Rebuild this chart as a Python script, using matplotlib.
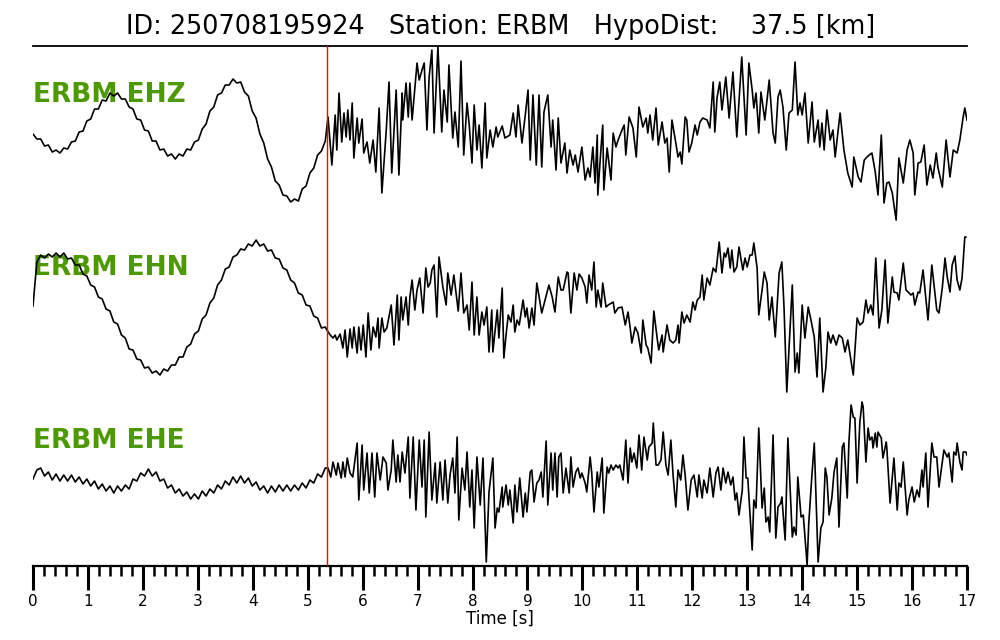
import numpy as np
import matplotlib
matplotlib.use('Agg')
import matplotlib.pyplot as plt
from matplotlib.ticker import MultipleLocator

# ---------------------------------------------------------------
# Header info
# ---------------------------------------------------------------
EVENT_ID = '250708195924'
STATION = 'ERBM'
HYPO_DIST_KM = 37.5
P_PICK = 5.35          # red marker [s]
CHANNELS = ['EHZ', 'EHN', 'EHE']

# ---------------------------------------------------------------
# Traces (amplitudes in plot counts)
# before the pick: one sample every PRE_DT seconds
# after the pick: peaks / troughs as (time, amplitude)
# ---------------------------------------------------------------
PRE_DT = 0.07

EHZ_PRE = [-1, -6, -6, -13, -12, -19, -17, -20, -15, -16, -9, -8, 1, 2, 12, 14,
           24, 24, 33, 32, 40, 37, 40, 34, 34, 26, 24, 14, 13, 3, 2, -8, -8, -17,
           -16, -23, -21, -26, -21, -23, -16, -17, -9, -7, 4, 9, 22, 26, 38, 40,
           48, 48, 54, 50, 51, 41, 37, 22, 15, -1, -10, -26, -34, -48, -52, -62,
           -63, -69, -66, -68, -56, -53, -40, -35, -22, -18, -8]
EHZ_T = [5.37, 5.44, 5.50, 5.53, 5.57, 5.62, 5.66, 5.70, 5.73, 5.77, 5.81, 5.84,
         5.90, 5.93, 5.99, 6.02, 6.08, 6.13, 6.19, 6.24, 6.30, 6.35, 6.43, 6.48,
         6.53, 6.61, 6.66, 6.72, 6.73, 6.79, 6.83, 6.86, 6.90, 6.99, 7.03, 7.08,
         7.12, 7.17, 7.21, 7.26, 7.30, 7.37, 7.44, 7.48, 7.54, 7.57, 7.64, 7.68,
         7.74, 7.79, 7.84, 7.90, 7.94, 7.99, 8.03, 8.08, 8.12, 8.17, 8.23, 8.26,
         8.32, 8.37, 8.43, 8.46, 8.54, 8.59, 8.68, 8.74, 8.79, 8.83, 8.90, 8.96,
         9.01, 9.05, 9.10, 9.16, 9.21, 9.26, 9.30, 9.37, 9.43, 9.46, 9.52, 9.56,
         9.61, 9.68, 9.72, 9.77, 9.83, 9.87, 9.92, 9.99, 10.05, 10.10, 10.14,
         10.19, 10.23, 10.27, 10.28, 10.34, 10.37, 10.39, 10.45, 10.52, 10.56,
         10.61, 10.65, 10.72, 10.76, 10.79, 10.85, 10.92, 10.98, 11.03, 11.10,
         11.16, 11.19, 11.23, 11.28, 11.34, 11.38, 11.45, 11.50, 11.54, 11.58,
         11.63, 11.70, 11.74, 11.78, 11.81, 11.87, 11.90, 11.94, 11.99, 12.05,
         12.09, 12.14, 12.19, 12.27, 12.32, 12.38, 12.41, 12.45, 12.50, 12.54,
         12.61, 12.67, 12.74, 12.81, 12.90, 12.98, 13.03, 13.09, 13.12, 13.16,
         13.21, 13.25, 13.32, 13.40, 13.47, 13.51, 13.56, 13.60, 13.65, 13.71,
         13.76, 13.82, 13.87, 13.92, 13.96, 14.00, 14.05, 14.11, 14.18, 14.22,
         14.29, 14.32, 14.36, 14.40, 14.45, 14.51, 14.56, 14.60, 14.69, 14.76,
         14.83, 14.91, 14.94, 15.02, 15.07, 15.13, 15.18, 15.22, 15.27, 15.33,
         15.38, 15.44, 15.49, 15.54, 15.58, 15.64, 15.71, 15.76, 15.84, 15.91,
         15.96, 16.02, 16.05, 16.11, 16.16, 16.22, 16.27, 16.33, 16.38, 16.44,
         16.47, 16.55, 16.62, 16.69, 16.75, 16.82, 16.87, 16.93, 16.96, 17.00]
EHZ_A = [16, -32, 18, -17, 40, -9, 20, -4, 23, -7, 30, -25,
         15, -10, 14, -20, -9, -30, -7, -39, 25, -60, 3, 51,
         -40, 43, -42, 40, 13, 50, 16, 50, 13, 70, 53, 63,
         70, 3, 56, 83, 0, 86, 1, 43, 11, 68, -5, 21,
         -14, 72, -22, 30, 8, -30, 28, -17, 8, -35, 30, -25,
         3, -14, 6, -4, 7, -5, -2, 20, -4, 28, -10, 18,
         43, -27, 38, -32, 38, -34, 21, 38, -14, 13, -37, 15,
         -30, -10, -40, -17, -32, -22, -39, -14, -47, -35, -44,
         -14, -50, -2, -62, -14, 8, -57, -15, -47, 0,
         -14, -7, 3, 8, -22, 16, 5, -24, 26, 6,
         15, 0, 18, -7, 25, -12, 11, -10, -5, -39,
         13, -10, -24, -19, -31, 16, 13, -19, -10, 8,
         -2, 11, 15, 13, 5, 51, 1, 35, 51, 23,
         56, 15, 61, -4, 76, -2, 70, 43, 25, 40,
         0, 41, 13, 53, 0, -10, 36, 43, 26, -17,
         20, 23, 71, 18, 30, 18, 40, -10, 31, -9,
         13, -14, 10, -17, 23, -7, 3, -24, 20, -17,
         -40, -54, -24, -44, -49, -27, -24, -22, -20, -39,
         -62, -2, -70, -50, -49, -60, -87, -25, -50, -17,
         -7, -20, -62, -30, -29, -12, -52, -32, -45, -20,
         -34, -54, -7, -44, -17, -20, -7, 16, 25, 13]

EHN_PRE = [0, 44, 51, 48, 52, 49, 53, 49, 53, 47, 48, 41, 41, 32, 30, 21, 19, 9,
           7, -3, -5, -16, -18, -29, -32, -43, -44, -53, -54, -62, -61, -67, -65,
           -69, -63, -65, -59, -59, -51, -51, -41, -38, -28, -25, -13, -9, 3, 8,
           21, 26, 37, 39, 49, 51, 57, 56, 62, 60, 66, 60, 62, 55, 56, 48, 47, 38,
           36, 26, 23, 13, 11, 1, 0, -10, -12, -22, -21]
EHN_T = [5.35, 5.41, 5.46, 5.50, 5.53, 5.59, 5.64, 5.68, 5.72, 5.77, 5.81, 5.84,
         5.90, 5.93, 5.97, 6.01, 6.06, 6.10, 6.15, 6.19, 6.24, 6.28, 6.30, 6.35,
         6.39, 6.44, 6.52, 6.57, 6.63, 6.66, 6.70, 6.73, 6.79, 6.83, 6.86, 6.90,
         6.95, 6.99, 7.04, 7.10, 7.15, 7.19, 7.23, 7.26, 7.30, 7.35, 7.39, 7.46,
         7.52, 7.55, 7.61, 7.66, 7.74, 7.79, 7.84, 7.90, 7.94, 7.99, 8.03, 8.08,
         8.12, 8.17, 8.21, 8.26, 8.30, 8.35, 8.37, 8.45, 8.48, 8.54, 8.57, 8.61,
         8.65, 8.70, 8.74, 8.77, 8.81, 8.85, 8.92, 8.96, 8.99, 9.03, 9.08, 9.12,
         9.17, 9.26, 9.32, 9.39, 9.45, 9.50, 9.56, 9.61, 9.65, 9.72, 9.74, 9.79,
         9.85, 9.90, 9.94, 9.99, 10.05, 10.08, 10.12, 10.17, 10.21, 10.25, 10.28,
         10.34, 10.37, 10.43, 10.47, 10.56, 10.59, 10.65, 10.72, 10.78, 10.83,
         10.87, 10.90, 10.96, 11.01, 11.07, 11.10, 11.16, 11.19, 11.25, 11.30,
         11.36, 11.39, 11.45, 11.47, 11.54, 11.59, 11.65, 11.70, 11.74, 11.76,
         11.81, 11.85, 11.90, 11.96, 12.01, 12.05, 12.09, 12.14, 12.18, 12.21,
         12.27, 12.32, 12.38, 12.43, 12.49, 12.54, 12.58, 12.61, 12.65, 12.69,
         12.72, 12.76, 12.81, 12.85, 12.92, 12.96, 13.00, 13.05, 13.09, 13.12,
         13.18, 13.21, 13.27, 13.31, 13.36, 13.40, 13.45, 13.51, 13.58, 13.63,
         13.67, 13.72, 13.82, 13.87, 13.91, 13.94, 14.00, 14.05, 14.11, 14.16,
         14.22, 14.27, 14.32, 14.38, 14.43, 14.47, 14.52, 14.56, 14.62, 14.67,
         14.73, 14.78, 14.83, 14.93, 15.00, 15.05, 15.11, 15.16, 15.20, 15.25,
         15.29, 15.34, 15.40, 15.45, 15.51, 15.56, 15.64, 15.67, 15.73, 15.76,
         15.84, 15.89, 15.93, 15.98, 16.02, 16.05, 16.11, 16.14, 16.20, 16.29,
         16.36, 16.45, 16.49, 16.55, 16.60, 16.64, 16.69, 16.73, 16.78, 16.82,
         16.87, 16.91, 16.96, 16.98]
EHN_A = [-24, -29, -32, -29, -34, -28, -42, -24, -51, -23, -42, -21,
         -47, -21, -44, -19, -51, -7, -44, -21, -31, -12, -42, -12,
         -26, -22, 1, -39, 11, -34, 9, -14, 9, -19, 9, 26,
         -4, 16, 28, -7, 38, 19, 23, 36, 41, -11, 49, 19,
         1, 33, 11, 31, -5, 33, -7, 1, -24, 24, -29, 9,
         -29, -6, -19, -1, -46, -4, -46, -4, -32, 18, -52, -29,
         -9, -16, 1, -26, -14, -19, 6, -11, -2, -22, -2, -19,
         23, -7, 6, 21, 9, -6, 29, 16, 16, 34, 33, -7,
         33, 16, 32, 28, 19, 3, 31, 16, 44, -1, 16,
         -1, 23, -1, 1, 4, -7, -2, -1, -19, -6,
         -22, -37, -21, -27, -47, -14, -39, -42, -57, -5,
         -32, -44, -29, -46, -19, -34, -37, -34, -19, -37,
         -6, -17, -9, -16, 4, -4, 6, 9, 31, 6,
         28, 21, 38, 34, 64, 33, 53, 49, 58, 38,
         56, 34, 39, 59, 36, 48, 39, 51, 51, 63,
         38, -9, 16, 34, 23, -14, 9, -31, 33, 44,
         -2, -86, 21, -66, -47, -67, 1, -32, -1, -14,
         -31, -71, -12, -86, -62, -26, -37, -29, -39, -29,
         -32, -46, -34, -69, -12, -19, -16, 6, -7, 1,
         -9, 48, -22, -4, 46, -17, 29, 14, 13, 6,
         43, 16, 14, 11, 13, 1, 14, 13, 36, -14,
         41, -4, -7, 18, 48, 29, 14, 41, 50, 26,
         16, 28, 69, 69]

EHE_PRE = [0, 9, 11, 3, 7, -1, 5, -2, 4, -2, 4, -3, 2, -5, 0, -7, -2, -10, -5,
           -12, -7, -14, -7, -12, -6, -10, 0, -2, 6, 3, 10, 3, 7, -2, 0, -9, -6,
           -14, -10, -17, -13, -20, -15, -20, -12, -17, -10, -14, -6, -10, -2, -6,
           2, -4, 3, -4, 1, -7, -3, -11, -7, -14, -7, -13, -6, -12, -6, -12, -6,
           -11, -4, -9, -1, -4, 5, 2, 11]
EHE_T = [5.37, 5.42, 5.46, 5.52, 5.55, 5.61, 5.64, 5.68, 5.72, 5.77, 5.82, 5.90,
         5.93, 5.99, 6.02, 6.08, 6.12, 6.17, 6.22, 6.26, 6.32, 6.37, 6.43, 6.46,
         6.52, 6.55, 6.61, 6.64, 6.68, 6.72, 6.77, 6.83, 6.86, 6.92, 6.97, 7.03,
         7.08, 7.12, 7.15, 7.21, 7.26, 7.32, 7.35, 7.41, 7.46, 7.50, 7.55, 7.59,
         7.64, 7.68, 7.72, 7.75, 7.81, 7.86, 7.90, 7.95, 7.99, 8.03, 8.08, 8.14,
         8.19, 8.25, 8.30, 8.37, 8.41, 8.45, 8.48, 8.54, 8.55, 8.61, 8.65, 8.68,
         8.74, 8.77, 8.81, 8.86, 8.92, 8.96, 8.99, 9.05, 9.08, 9.12, 9.17, 9.21,
         9.25, 9.28, 9.34, 9.37, 9.43, 9.46, 9.50, 9.54, 9.57, 9.61, 9.65, 9.70,
         9.76, 9.79, 9.83, 9.88, 9.92, 9.96, 9.99, 10.05, 10.08, 10.14, 10.17,
         10.21, 10.27, 10.30, 10.36, 10.39, 10.45, 10.48, 10.52, 10.56, 10.61,
         10.65, 10.68, 10.74, 10.79, 10.83, 10.87, 10.90, 10.94, 10.99, 11.03,
         11.08, 11.12, 11.18, 11.21, 11.27, 11.29, 11.34, 11.38, 11.43, 11.47,
         11.52, 11.56, 11.61, 11.65, 11.70, 11.74, 11.79, 11.83, 11.87, 11.92,
         11.98, 12.03, 12.09, 12.12, 12.18, 12.21, 12.27, 12.32, 12.38, 12.43,
         12.47, 12.52, 12.56, 12.61, 12.65, 12.70, 12.74, 12.78, 12.81, 12.85,
         12.91, 12.94, 12.98, 13.01, 13.09, 13.12, 13.16, 13.21, 13.27, 13.31,
         13.34, 13.38, 13.41, 13.47, 13.52, 13.56, 13.61, 13.63, 13.69, 13.74,
         13.82, 13.85, 13.89, 13.92, 13.98, 14.02, 14.09, 14.12, 14.18, 14.22,
         14.25, 14.29, 14.34, 14.38, 14.42, 14.45, 14.49, 14.54, 14.58, 14.63,
         14.67, 14.73, 14.76, 14.82, 14.85, 14.89, 14.93, 14.96, 15.00, 15.05,
         15.09, 15.11, 15.16, 15.20, 15.23, 15.27, 15.29, 15.33, 15.36, 15.38,
         15.44, 15.47, 15.53, 15.54, 15.60, 15.67, 15.73, 15.76, 15.80, 15.84,
         15.91, 15.94, 16.00, 16.04, 16.09, 16.13, 16.18, 16.20, 16.25, 16.29,
         16.36, 16.40, 16.45, 16.49, 16.55, 16.58, 16.64, 16.67, 16.73, 16.76,
         16.80, 16.82, 16.87, 16.91, 16.93, 16.98, 17.00]
EHE_A = [11, 2, 17, 4, 16, 1, 17, 2, 21, 6, 2, 36,
         -21, 34, -11, 26, -14, 26, -18, 26, -1, 22, 16, -11,
         9, 39, -3, 24, -3, 27, 6, 42, -19, 42, -31, 39,
         -8, 39, -38, 47, -21, 16, -24, 17, -21, 19, -24, 4,
         21, -14, 42, -41, 11, -11, 27, -28, 9, -49, 22, -26,
         21, -83, -13, 21, -49, -29, -33, -8, -28, -6, -26, -11,
         -44, -6, -33, 1, -38, -14, -33, 7, 9, -23, -4, -1,
         7, -18, 38, -26, 26, -11, 26, -18, 22, 26, -14, 11,
         -14, 22, -8, 7, 11, 1, 6, -4, -13, 22, 6,
         -33, 7, -8, 21, -34, 12, 6, 14, 9, 14,
         11, 14, -1, 39, -4, 31, 17, 26, 11, 44,
         9, 42, 19, 32, 36, 56, 14, 14, 19, 47,
         14, 4, 39, 4, -28, 9, -1, 24, 4, -31,
         -1, 4, -18, 4, -19, -1, -14, 11, -18, 6,
         12, -11, 11, -4, 7, -6, 2, -21, -14, -36,
         -11, 42, 1, 1, -71, -21, -29, 51, -29, -9,
         -43, -38, -53, 44, -59, -28, -24, -18, -61, 41,
         -58, -48, -56, 2, -38, -36, -86, -44, 6, 36,
         -14, -83, -49, -43, 11, 2, -36, -19, 7, 21,
         -48, 32, 36, -19, 36, 74, 62, 61, -4, 57,
         77, 72, 17, 51, 39, 42, 31, 46, 32, 47,
         41, 21, 37, 32, -24, 21, -31, -4, -8, 17,
         -36, -21, -8, -23, -11, -18, 9, -8, 26, -28,
         36, 22, 22, -8, 17, 29, 22, 26, -3, 27,
         24, 36, 17, 9, 27, 27, 24]

TRACES = [(EHZ_PRE, EHZ_T, EHZ_A), (EHN_PRE, EHN_T, EHN_A), (EHE_PRE, EHE_T, EHE_A)]

# ---------------------------------------------------------------
# Figure
# ---------------------------------------------------------------
SPACING = 173
LABEL_GREEN = '#4c9900'

fig = plt.figure(figsize=(10, 6.4), dpi=100)
ax = fig.add_axes([0.033, 0.1156, 0.934, 0.8125])

for i, (pre, t_post, a_post) in enumerate(TRACES):
    offset = (len(TRACES) - i) * SPACING - 86
    t = np.concatenate([np.arange(len(pre)) * PRE_DT, t_post])
    a = np.concatenate([pre, a_post])
    ax.plot(t, offset + a, color='black', lw=1.2, zorder=2)
    ax.text(0, offset + 31, f'{STATION} {CHANNELS[i]}', color=LABEL_GREEN,
            fontsize=19, fontweight='bold', ha='left', va='baseline', zorder=1)

ax.axvline(P_PICK, color='red', lw=1.0, zorder=3)

ax.set_xlim(0, 17)
ax.set_ylim(0, 3 * SPACING + 1)
ax.set_yticks([])
ax.spines['left'].set_visible(False)
ax.spines['right'].set_visible(False)
ax.spines['top'].set_linewidth(1.3)
ax.spines['bottom'].set_linewidth(1.6)

ax.xaxis.set_major_locator(MultipleLocator(1))
ax.xaxis.set_minor_locator(MultipleLocator(0.2))
ax.tick_params(axis='x', which='major', direction='out', length=17, width=2.2,
               labelsize=11, pad=3)
ax.tick_params(axis='x', which='minor', direction='out', length=7.5, width=1.8)
ax.set_xlabel('Time [s]', fontsize=12, labelpad=1)

fig.text(0.501, 1 - 27 / 640,
         f'ID: {EVENT_ID}   Station: {STATION}   HypoDist:    {HYPO_DIST_KM} [km]',
         ha='center', va='center', fontsize=18.4)

fig.savefig('out.png', dpi=100)
plt.close(fig)
